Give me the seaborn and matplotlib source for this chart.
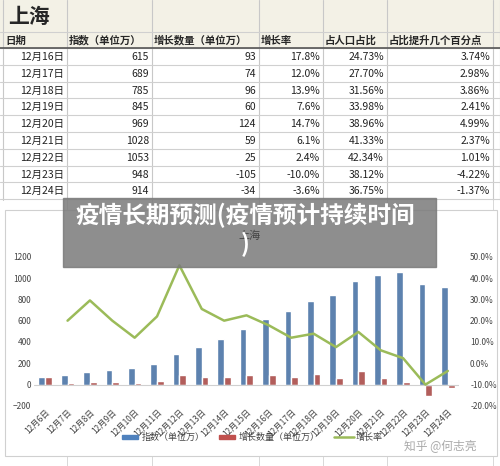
import matplotlib
matplotlib.use("Agg")
import matplotlib.pyplot as plt
import seaborn as sns
import numpy as np
import pandas as pd
from matplotlib.patches import Rectangle

sns.set_theme(style="white")
plt.rcParams['font.family'] = ['Noto Sans CJK SC', 'DejaVu Sans']

dates = [f"12月{d}日" for d in range(6, 25)]
index_vals = [70, 88, 118, 138, 155, 193, 285, 350, 425, 520, 615, 689, 785, 845, 969, 1028, 1053, 948, 914]
growth_vals = [70, 15, 25, 22, 12, 35, 90, 70, 70, 90, 93, 74, 96, 60, 124, 59, 25, -105, -34]
rate_vals = [np.nan, 20.0, 29.5, 20.0, 12.0, 22.0, 46.0, 25.5, 20.0, 22.5, 17.8, 12.0, 13.9, 7.6, 14.7, 6.1, 2.4, -10.0, -3.6]

table_header = ["日期", "指数（单位万）", "增长数量（单位万）", "增长率", "占人口占比", "占比提升几个百分点"]
table_dates = [f"12月{d}日" for d in range(16, 25)]
table_index = ["615", "689", "785", "845", "969", "1028", "1053", "948", "914"]
table_growth = ["93", "74", "96", "60", "124", "59", "25", "-105", "-34"]
table_rate = ["17.8%", "12.0%", "13.9%", "7.6%", "14.7%", "6.1%", "2.4%", "-10.0%", "-3.6%"]
table_share = ["24.73%", "27.70%", "31.56%", "33.98%", "38.96%", "41.33%", "42.34%", "38.12%", "36.75%"]
table_up = ["3.74%", "2.98%", "3.86%", "2.41%", "4.99%", "2.37%", "1.01%", "-4.22%", "-1.37%"]

fig = plt.figure(figsize=(5, 4.66), dpi=100)
bg = fig.add_axes([0, 0, 1, 1])
bg.set_xlim(0, 500); bg.set_ylim(466, 0); bg.axis("off")

# spreadsheet table
cols = [3, 67, 152, 259, 323, 387, 493]
bg.add_patch(Rectangle((0, 0), 500, 48, color="#f3f1e6", zorder=0))
for x in cols + [500]:
    bg.plot([x, x], [0, 200], color="#c8c8c8", lw=0.8)
for y in [32, 48] + [48 + 16.8 * i for i in range(1, 10)]:
    bg.plot([0, 500], [y, y], color="#d0d0d0", lw=0.8)
bg.plot([0, 500], [48, 48], color="#555555", lw=1.2)
bg.text(8, 16, "上海", fontsize=15, fontweight="bold", va="center")
for i, h in enumerate(table_header):
    bg.text(cols[i] + 2, 40.5, h, fontsize=7.5, fontweight="bold", va="center")
colsdata = [table_dates, table_index, table_growth, table_rate, table_share, table_up]
for c, data in enumerate(colsdata):
    for r, v in enumerate(data):
        bg.text(cols[c + 1] - 3, 57 + 16.8 * r, v, fontsize=7.5, ha="right", va="center", color="#222222")
for x in [67, 152, 259, 323, 387, 493]:
    bg.plot([x, x], [200, 466], color="#d8d8d8", lw=0.7)
bg.add_patch(Rectangle((5, 210), 492, 246, facecolor="white", edgecolor="#d0d0d0", lw=0.8, zorder=2))

# chart
ax = fig.add_axes([0.068, 0.129, 0.85, 0.320])
ax.set_zorder(3); ax.patch.set_alpha(0)
df = pd.DataFrame({
    "date": dates * 2,
    "value": index_vals + growth_vals,
    "series": ["指数（单位万）"] * len(dates) + ["增长数量（单位万）"] * len(dates),
})
sns.barplot(data=df, x="date", y="value", hue="series", palette=["#4F81BD", "#C0504D"],
            width=0.6, ax=ax, legend=False)
ax.set_ylim(-200, 1200)
ax.set_yticks(range(-200, 1201, 200))
ax.set_xlabel(""); ax.set_ylabel("")
ax.tick_params(axis="y", labelsize=6, colors="#444444", length=0, pad=2)
ax.tick_params(axis="x", labelsize=6, colors="#444444", length=0, pad=1)
plt.setp(ax.get_xticklabels(), rotation=45, ha="right", rotation_mode="anchor")
ax.axhline(0, color="#d0d0d0", lw=0.8)
for s in ax.spines.values():
    s.set_visible(False)

ax2 = ax.twinx()
ldf = pd.DataFrame({"x": np.arange(len(dates)), "rate": rate_vals})
sns.lineplot(data=ldf, x="x", y="rate", color="#9BBB59", lw=1.8, ax=ax2)
ax2.set_ylim(-20, 50)
ax2.set_yticks(range(-20, 51, 10))
ax2.set_yticklabels([f"{v:.1f}%" for v in range(-20, 51, 10)])
ax2.set_ylabel(""); ax2.set_xlabel("")
ax2.tick_params(axis="y", labelsize=6, colors="#444444", length=0, pad=8)
for s in ax2.spines.values():
    s.set_visible(False)
ax.set_xlim(-0.5, len(dates) - 0.5)

bg2 = fig.add_axes([0, 0, 1, 1], zorder=5)
bg2.set_xlim(0, 500); bg2.set_ylim(466, 0); bg2.axis("off")
bg2.text(250, 236, "上海", fontsize=8, ha="center", va="center", color="#444444")
# legend
bg2.add_patch(Rectangle((122, 435), 16, 4, color="#4F81BD"))
bg2.text(142, 437, "指数（单位万）", fontsize=6.5, va="center", color="#444444")
bg2.add_patch(Rectangle((219, 435), 16, 4, color="#C0504D"))
bg2.text(239, 437, "增长数量（单位万）", fontsize=6.5, va="center", color="#444444")
bg2.plot([334, 354], [437, 437], color="#9BBB59", lw=1.8)
bg2.text(356, 437, "增长率", fontsize=6.5, va="center", color="#444444")
bg2.text(440, 447, "知乎 @何志亮", fontsize=8.5, ha="center", va="center", color="#aaaaaa")
# overlay title
bg2.add_patch(Rectangle((63, 198), 373, 69, color="#7a7a7a", alpha=0.85))
bg2.text(245, 215, "疫情长期预测(疫情预计持续时间", fontsize=17, fontweight="bold",
         ha="center", va="center", color="white")
bg2.text(245, 244, ")", fontsize=17, fontweight="bold", ha="center", va="center", color="white")

fig.savefig("out.png", dpi=100)
